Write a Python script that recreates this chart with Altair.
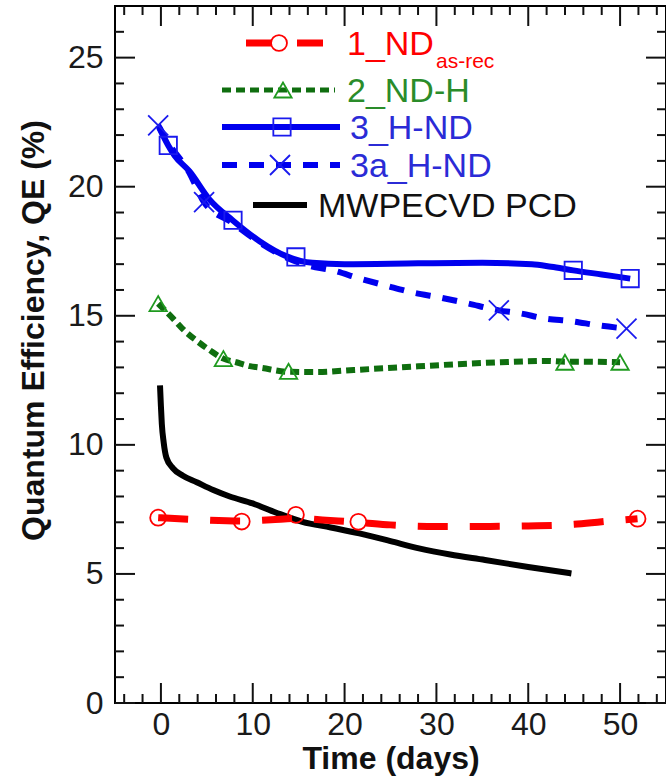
import altair as alt
import pandas as pd

FONT = "Liberation Sans"

# Axis ranges and tick positions
X_DOMAIN = [-5, 55]
Y_DOMAIN = [0, 27]
x_major = [0, 10, 20, 30, 40, 50]
x_minor = [-4, -2, 2, 4, 6, 8, 12, 14, 16, 18, 22, 24, 26, 28, 32, 34, 36, 38,
           42, 44, 46, 48, 52, 54]
y_major = [0, 5, 10, 15, 20, 25]
y_minor = [1, 2, 3, 4, 6, 7, 8, 9, 11, 12, 13, 14, 16, 17, 18, 19, 21, 22, 23, 24, 26]

# 1_ND as-rec
nd_day = [-0.3, 4.0, 8.8, 12.0, 15.0, 18.0, 21.5, 25.0, 30.0, 35.0, 40.0, 45.0, 48.0, 51.9]
nd_qe = [7.18, 7.10, 7.05, 7.10, 7.15, 7.08, 7.00, 6.90, 6.84, 6.84, 6.86, 6.92, 7.02, 7.14]
nd_mark_day = [-0.3, 8.8, 14.7, 21.5, 51.9]
nd_mark_qe = [7.18, 7.03, 7.29, 7.02, 7.14]

# 2_ND-H
ndh_day = [-0.3, 1.3, 2.6, 4.05, 5.3, 6.8, 8.2, 9.7, 11.0, 13.9, 17.0, 21.0, 26.0, 32.0,
           37.0, 42.0, 44.0, 47.0, 50.0]
ndh_qe = [15.47, 14.90, 14.41, 13.99, 13.67, 13.34, 13.20, 13.05, 12.98, 12.83, 12.82,
          12.90, 13.00, 13.12, 13.20, 13.25, 13.22, 13.22, 13.20]
ndh_mark_day = [-0.3, 6.8, 13.9, 44.0, 50.0]
ndh_mark_qe = [15.47, 13.34, 12.85, 13.20, 13.20]

# 3_H-ND
hnd_day = [-0.2, 0.8, 1.5, 3.1, 5.3, 7.8, 10.7, 13.7, 16.5, 20.0, 28.0, 35.0, 40.4,
           42.5, 44.9, 48.0, 51.1]
hnd_qe = [22.30, 21.60, 21.20, 20.60, 19.50, 18.70, 17.90, 17.30, 17.05, 17.00, 17.03,
          17.05, 17.00, 16.90, 16.76, 16.60, 16.44]
hnd_mark_day = [0.8, 7.85, 14.7, 44.9, 51.1]
hnd_mark_qe = [21.60, 18.70, 17.28, 16.76, 16.44]

# 3a_H-ND
hnda_day = [-0.3, 0.8, 3.0, 4.7, 7.8, 10.7, 13.7, 16.0, 18.7, 21.6, 24.7, 27.2, 30.5,
            33.3, 36.8, 39.0, 41.9, 44.7, 47.6, 50.7]
hnda_qe = [22.38, 21.70, 20.60, 19.40, 18.60, 17.85, 17.25, 16.95, 16.76, 16.45, 16.15,
           15.92, 15.70, 15.49, 15.21, 15.10, 14.89, 14.79, 14.63, 14.50]
hnda_mark_day = [-0.3, 4.7, 36.8, 50.7]
hnda_mark_qe = [22.38, 19.40, 15.21, 14.50]

# MWPECVD PCD
pcd_day = [-0.1, 0.0, 0.1, 0.3, 0.6, 1.3, 2.4, 3.9, 5.7, 7.5, 10.0, 12.5, 15.4, 18.5,
           21.6, 25.0, 28.1, 31.5, 35.3, 40.0, 44.7]
pcd_qe = [12.30, 11.50, 10.80, 10.10, 9.50, 9.10, 8.80, 8.55, 8.25, 8.00, 7.73, 7.38,
          7.02, 6.80, 6.57, 6.27, 5.99, 5.75, 5.54, 5.27, 5.02]

labels = ["1_ND", "2_ND-H", "3_H-ND", "3a_H-ND", "MWPECVD PCD"]
subscript = "as-rec"

RED = "#ff0000"
GREEN_LINE = "#0f6e0f"
GREEN_MARK = "#1f9a1f"
GREEN_TEXT = "#2a8c2a"
BLUE_LINE = "#0000ee"
BLUE_MARK = "#1a1aee"
BLUE_TEXT = "#2b2bd6"
BLACK = "#000000"

X_SHAPE = "M-1,-1L1,1M-1,1L1,-1"

W, H = 551, 697

x_scale = alt.Scale(domain=X_DOMAIN, nice=False, zero=False)
y_scale = alt.Scale(domain=Y_DOMAIN, nice=False, zero=False)
x_axis = alt.Axis(values=x_major, ticks=False, domain=False, grid=False,
                  labelPadding=6, labelFontSize=32, labelFont=FONT, labelColor="#1a1a1a",
                  titleFontSize=32, titleFont=FONT, titleFontWeight="bold",
                  titleColor="#111", titleBaseline="alphabetic", titleY=65)
y_axis = alt.Axis(values=y_major, ticks=False, domain=False, grid=False,
                  labelPadding=12, labelFontSize=32, labelFont=FONT, labelColor="#1a1a1a",
                  titleFontSize=32, titleFont=FONT, titleFontWeight="bold",
                  titleColor="#111", titleBaseline="alphabetic",
                  titleX=-72, titleY=324)
X_TITLE = "Time (days)"
Y_TITLE = "Quantum Efficiency, QE (%)"


def xq(field):
    return alt.X(f"{field}:Q", scale=x_scale, axis=x_axis, title=X_TITLE)


def yq(field):
    return alt.Y(f"{field}:Q", scale=y_scale, axis=y_axis, title=Y_TITLE)


def series(day, qe, color, width, dash=None):
    kw = dict(color=color, strokeWidth=width, interpolate="monotone", strokeCap="butt")
    if dash:
        kw["strokeDash"] = dash
    return alt.Chart(pd.DataFrame({"day": day, "qe": qe})).mark_line(**kw).encode(
        x=xq("day"), y=yq("qe"))


def markers(day, qe, color, shape, size):
    return alt.Chart(pd.DataFrame({"day": day, "qe": qe})).mark_point(
        shape=shape, filled=False, stroke=color, strokeWidth=1.8, size=size, opacity=1
    ).encode(x=xq("day"), y=yq("qe"))


# inward-pointing frame ticks
def x_ticks(values, length):
    df = pd.DataFrame({"day": values})
    top = alt.Chart(df).mark_rule(color="#111", strokeWidth=2).encode(
        x=xq("day"), y=alt.value(0), y2=alt.value(length))
    bottom = alt.Chart(df).mark_rule(color="#111", strokeWidth=2).encode(
        x=xq("day"), y=alt.value(H), y2=alt.value(H - length))
    return [top, bottom]


def y_ticks(values, length):
    df = pd.DataFrame({"qe": values})
    left = alt.Chart(df).mark_rule(color="#111", strokeWidth=2).encode(
        y=yq("qe"), x=alt.value(0), x2=alt.value(length))
    right = alt.Chart(df).mark_rule(color="#111", strokeWidth=2).encode(
        y=yq("qe"), x=alt.value(W), x2=alt.value(W - length))
    return [left, right]


# legend drawn inside the plot area
def legend_entry(label, y, x1, x2, color, width, dash, text_x, text_color,
                 marker_x=None, shape=None, mcolor=None, size=None):
    df = pd.DataFrame({"label": [label]})
    kw = dict(color=color, strokeWidth=width, strokeCap="butt")
    if dash:
        kw["strokeDash"] = dash
    out = [alt.Chart(df).mark_rule(**kw).encode(
        x=alt.value(x1), x2=alt.value(x2), y=alt.value(y))]
    if shape:
        out.append(alt.Chart(df).mark_point(
            shape=shape, filled=False, stroke=mcolor, strokeWidth=1.8, size=size, opacity=1
        ).encode(x=alt.value(marker_x), y=alt.value(y)))
    out.append(alt.Chart(df).mark_text(
        align="left", baseline="alphabetic", font=FONT, fontSize=34, color=text_color
    ).encode(x=alt.value(text_x), y=alt.value(y + 12), text="label:N"))
    return out


RED_DASH = [30, 22]
GREEN_DASH = [9, 5]
BLUE_DASH = [15, 12]

layers = []
layers += x_ticks(x_major, 20) + x_ticks(x_minor, 9)
layers += y_ticks(y_major, 20) + y_ticks(y_minor, 9)

layers += [
    series(pcd_day, pcd_qe, BLACK, 6),
    series(nd_day, nd_qe, RED, 7, RED_DASH),
    series(ndh_day, ndh_qe, GREEN_LINE, 6, GREEN_DASH),
    series(hnda_day, hnda_qe, BLUE_LINE, 6, BLUE_DASH),
    series(hnd_day, hnd_qe, BLUE_LINE, 6),
    markers(nd_mark_day, nd_mark_qe, RED, "circle", 254),
    markers(ndh_mark_day, ndh_mark_qe, GREEN_MARK, "triangle-up", 300),
    markers(hnd_mark_day, hnd_mark_qe, BLUE_MARK, "square", 300),
    markers(hnda_mark_day, hnda_mark_qe, BLUE_MARK, X_SHAPE, 400),
]

layers += legend_entry(labels[0], 37, 131, 215, RED, 7, [26, 25], 232, RED,
                       164, "circle", RED, 254)
layers.append(
    alt.Chart(pd.DataFrame({"label": [subscript]})).mark_text(
        align="left", baseline="alphabetic", font=FONT, fontSize=21, color=RED
    ).encode(x=alt.value(321), y=alt.value(62), text="label:N")
)
layers += legend_entry(labels[1], 84, 107, 220, GREEN_LINE, 5, GREEN_DASH, 232, GREEN_TEXT,
                       168, "triangle-up", GREEN_MARK, 300)
layers += legend_entry(labels[2], 121, 107, 225, BLUE_LINE, 6, None, 235, BLUE_TEXT,
                       167, "square", BLUE_MARK, 300)
layers += legend_entry(labels[3], 159, 107, 225, BLUE_LINE, 6, BLUE_DASH, 235, BLUE_TEXT,
                       165, X_SHAPE, BLUE_MARK, 400)
layers += legend_entry(labels[4], 199, 138, 192, BLACK, 6, None, 203, "#111")

chart = alt.layer(*layers).properties(
    width=W,
    height=H,
    padding={"left": 115, "top": 6, "right": 0, "bottom": 75},
    autosize=alt.AutoSizeParams(type="none"),
    background="white",
).configure_view(stroke="black", strokeWidth=2)

chart.save("out.html", embed_options={"renderer": "svg", "actions": False})
